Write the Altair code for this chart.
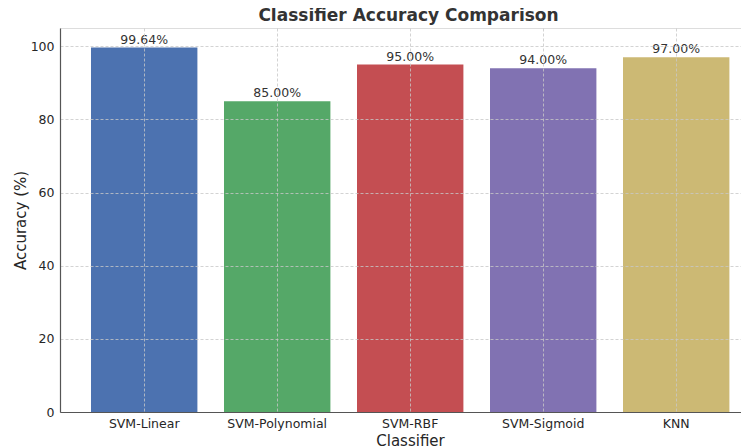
import altair as alt
import pandas as pd

classifiers = ["SVM-Linear", "SVM-Polynomial", "SVM-RBF", "SVM-Sigmoid", "KNN"]
accuracy = [99.64, 85.00, 95.00, 94.00, 97.00]
colors = ["#4C72B0", "#55A868", "#C44E52", "#8172B2", "#CCB974"]
y_ticks = [0, 20, 40, 60, 80, 100]

df = pd.DataFrame({
    "Classifier": classifiers,
    "Accuracy": accuracy,
    "Label": [f"{v:.2f}%" for v in accuracy],
})

FONT = "DejaVu Sans"
GRID = dict(grid=True, gridColor="#c8c8c8", gridWidth=0.8, gridDash=[3, 2], zindex=1)

x_scale = alt.Scale(domain=classifiers, paddingInner=0.2, paddingOuter=0.16015, align=0.7277)
y_scale = alt.Scale(domain=[0, 105], nice=False)

x_enc = alt.X("Classifier:N", scale=x_scale, sort=classifiers,
              axis=alt.Axis(title="Classifier", labelAngle=0, labelFontSize=12.5,
                            labelColor="#262626", labelFont=FONT, labelPadding=5,
                            ticks=False, domainColor="#555555", domainWidth=1.2,
                            titleFont=FONT, titleFontSize=15, titleFontWeight="normal",
                            titleColor="#262626", titleX=350, titleY=33,
                            titleBaseline="alphabetic", **GRID))
y_enc = alt.Y("Accuracy:Q", scale=y_scale,
              axis=alt.Axis(title="Accuracy (%)", values=y_ticks, labelFontSize=12.5,
                            labelColor="#262626", labelFont=FONT, labelPadding=6,
                            ticks=False, domainColor="#555555", domainWidth=1.2,
                            titleFont=FONT, titleFontSize=15, titleFontWeight="normal",
                            titleColor="#262626", titleX=-40, titleY=192,
                            titleAngle=-90, titleAlign="center", titleBaseline="middle",
                            **GRID))

bars = alt.Chart(df).mark_bar(opacity=1).encode(
    x=x_enc,
    y=y_enc,
    color=alt.Color("Classifier:N", scale=alt.Scale(domain=classifiers, range=colors), legend=None),
)

labels = alt.Chart(df).mark_text(font=FONT, fontSize=12.5, color="#333333",
                                 baseline="alphabetic", dy=-4).encode(
    x=alt.X("Classifier:N", scale=x_scale, sort=classifiers),
    y=alt.Y("Accuracy:Q", scale=y_scale),
    text="Label:N",
)

chart = (bars + labels).properties(
    width=681, height=384,
    autosize=alt.AutoSizeParams(type="none"),
    padding={"left": 52, "top": 20, "right": 0, "bottom": 34},
    title=alt.TitleParams("Classifier Accuracy Comparison", font=FONT, fontSize=17,
                          fontWeight="bold", color="#333333", offset=3, dx=8),
).configure_view(stroke=None).configure(background="white")

chart.save("out.html", embed_options={"renderer": "svg", "actions": False})
